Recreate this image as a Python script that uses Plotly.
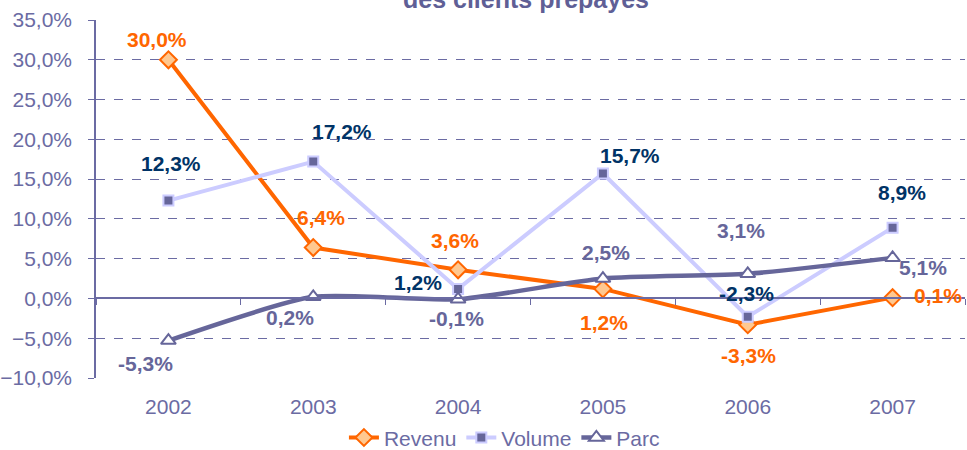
import plotly.graph_objects as go

years = ["2002", "2003", "2004", "2005", "2006", "2007"]
revenu = [30.0, 6.4, 3.6, 1.2, -3.3, 0.1]
volume = [12.3, 17.2, 1.2, 15.7, -2.3, 8.9]
parc = [-5.3, 0.2, -0.1, 2.5, 3.1, 5.1]

idx = list(range(len(years)))

# label placement per point (xshift, yshift in px)
rev_off = [(-11, 20), (8, 30), (-3, 29), (1, -34), (1, -31), (45, 2)]
vol_off = [(3, 37), (29, 30), (-40, 6), (27, 18), (-1, 23), (9, 35)]
parc_off = [(-23, -23), (-23, -21), (-2, -19), (3, 26), (-7, 43), (30, -10)]

ORANGE = "#ff6600"
LAVENDER = "#ccccff"
SLATE = "#66669a"
NAVY = "#003366"
AXIS = "#6b6ba3"
FONT = "Liberation Sans, Arial, sans-serif"

fig = go.Figure()
fig.add_trace(go.Scatter(
    x=idx, y=revenu, name="Revenu", mode="lines+markers",
    line=dict(color=ORANGE, width=4),
    marker=dict(symbol="diamond", size=13, color="#ffc890",
                line=dict(color=ORANGE, width=2)),
))
fig.add_trace(go.Scatter(
    x=idx, y=volume, name="Volume", mode="lines+markers",
    line=dict(color=LAVENDER, width=4),
    marker=dict(symbol="square", size=10, color=SLATE,
                line=dict(color=LAVENDER, width=2)),
))
fig.add_trace(go.Scatter(
    x=idx, y=parc, name="Parc", mode="lines+markers",
    line=dict(color=SLATE, width=4.5, shape="spline", smoothing=0.6),
    marker=dict(symbol="triangle-up", size=13, color="white",
                line=dict(color=SLATE, width=2)),
))


def fmt(v):
    return f"{v:.1f}".replace(".", ",") + "%"


def add_labels(values, offsets, color):
    for i, v, (dx, dy) in zip(idx, values, offsets):
        fig.add_annotation(
            x=i, y=v, xref="x", yref="y", text=f"<b>{fmt(v)}</b>",
            showarrow=False, xshift=dx, yshift=dy,
            font=dict(family=FONT, size=21, color=color),
        )


add_labels(revenu, rev_off, ORANGE)
add_labels(volume, vol_off, NAVY)
add_labels(parc, parc_off, SLATE)

# title line, running off the top of the page
fig.add_annotation(
    xref="paper", yref="paper", x=0.495, y=1.0, yanchor="bottom", yshift=5,
    text="<b>des clients prépayés</b>",
    showarrow=False, font=dict(family=FONT, size=25, color="#5f5f96"),
)

fig.update_layout(
    width=967, height=450,
    margin=dict(l=96, r=2, t=20, b=72, autoexpand=False),
    plot_bgcolor="white", paper_bgcolor="white",
    separators=", ",
    font=dict(family=FONT, size=21, color=AXIS),
    showlegend=True,
    legend=dict(orientation="h", x=0.47, xanchor="center",
                yref="container", y=0.027, yanchor="middle",
                font=dict(size=21, color=AXIS), tracegroupgap=0),
    xaxis=dict(
        showgrid=False, showline=False, ticks="", zeroline=False,
        tickvals=idx, ticktext=years,
        tickfont=dict(size=21, color=AXIS), ticklabelstandoff=14,
        range=[-0.5, 5.5],
    ),
    xaxis2=dict(
        overlaying="x", anchor="free", position=10 / 45,
        showline=True, linecolor=AXIS, linewidth=1.5, zeroline=False,
        ticks="outside", ticklen=6, tickcolor=AXIS,
        tickvals=[i - 0.5 for i in idx] + [idx[-1] + 0.5],
        showticklabels=False, showgrid=False, range=[-0.5, 5.5],
    ),
    yaxis=dict(
        range=[-10, 35], dtick=5, tickformat=".1f", ticksuffix="%",
        showgrid=True, gridcolor=AXIS, griddash="dash", gridwidth=1,
        zeroline=False, showline=True, linecolor=AXIS, linewidth=1.5,
        ticks="outside", ticklen=6, tickcolor=AXIS,
        tickfont=dict(size=21, color=AXIS), ticklabelstandoff=12,
    ),
)

# empty trace that attaches the zero-line axis with boundary ticks
fig.add_trace(go.Scatter(x=idx, y=[None] * len(idx), xaxis="x2",
                         showlegend=False, hoverinfo="skip"))

fig.write_html("out.html")
